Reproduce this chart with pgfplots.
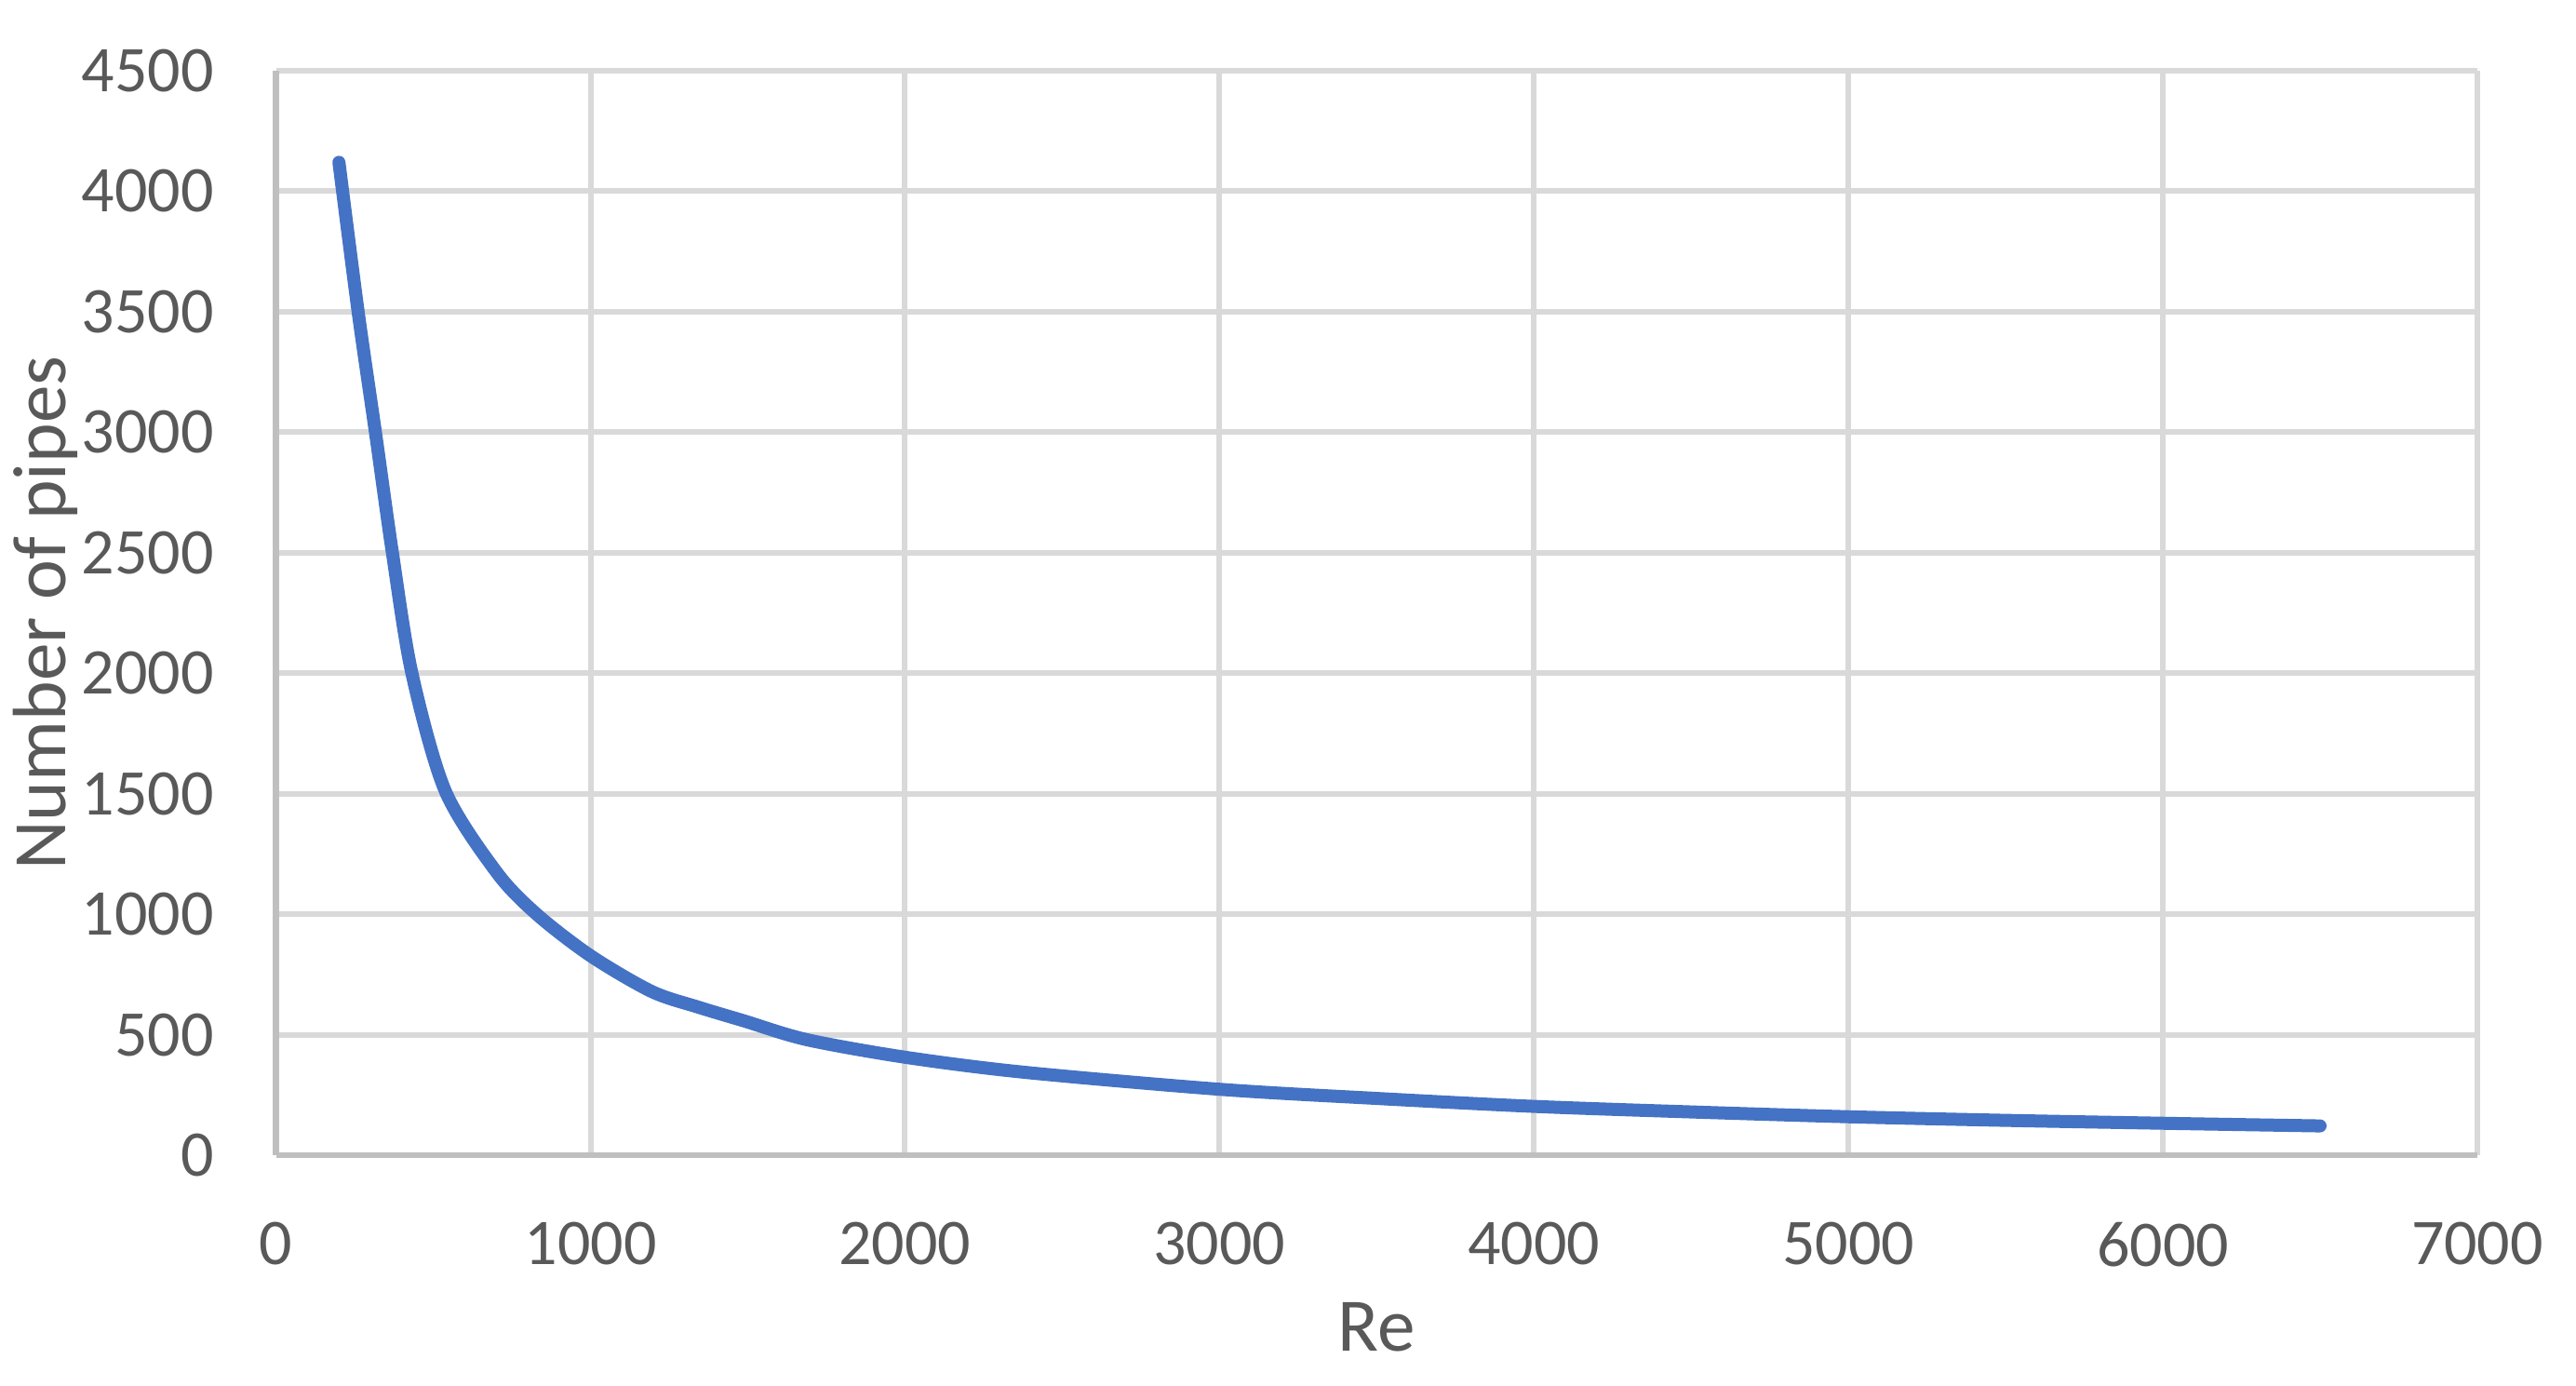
\documentclass[border=0pt]{standalone}
\usepackage{pgfplots}
\pgfplotsset{compat=1.18}
\usepackage{fontspec}
\setmainfont{Carlito}
\definecolor{tickgray}{HTML}{595959}
\definecolor{gridgray}{HTML}{D9D9D9}
\definecolor{axgray}{HTML}{BFBFBF}
\definecolor{lineblue}{HTML}{4472C4}
\begin{document}
\begin{tikzpicture}
\useasboundingbox (-74.15pt,-61.75pt) rectangle (617.75pt,310.25pt);
\begin{axis}[
  at={(0,0)}, anchor=south west,
  scale only axis, width=591.25pt, height=291.25pt,
  xmin=0, xmax=7000, ymin=0, ymax=4500,
  xtick={0,1000,...,7000}, ytick={0,500,...,4500},
  axis x line*=bottom, axis y line*=left,
  axis line style={axgray, line width=1.6pt},
  x axis line style={-}, y axis line style={-},
  major tick length=0pt,
  grid=major,
  major grid style={gridgray, line width=1.5pt},
  /pgf/number format/assume math mode=true,
  /pgf/number format/1000 sep={},
  tick label style={font=\fontsize{17.5}{20}\selectfont, text=tickgray},
  xticklabel style={yshift=-14.4pt},
  yticklabel style={xshift=-13.2pt},
  xlabel={Re}, ylabel={Number of pipes},
  label style={font=\fontsize{20.3}{24}\selectfont, text=tickgray},
  xlabel style={at={([yshift=-52.5pt]axis description cs:0.5,0)}, anchor=base},
  ylabel style={at={([xshift=-56.5pt]axis description cs:0,0.5)}, anchor=base, rotate=0},
  clip=false,
]
\addplot[lineblue, line width=3.5pt, line cap=round, line join=round, smooth, tension=0.5] coordinates {
(200,4120) (261,3500) (316,3000) (370,2500) (432,2000)
(538,1512) (701,1175) (829,1000) (1000,828)
(1194,680) (1342,615) (1490,557) (1687,480) (2000,407) (2376,345)
(3000,274) (3500,236) (4000,203) (4500,180)
(5000,160) (5500,145) (6000,133) (6500,122)
};
\end{axis}
\end{tikzpicture}
\end{document}
